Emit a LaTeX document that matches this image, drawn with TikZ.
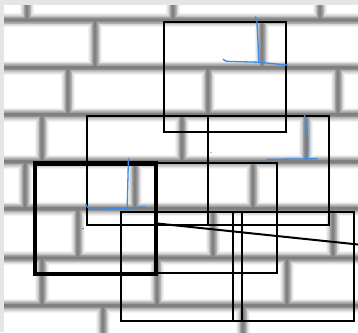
\documentclass[tikz,border=0pt]{standalone}
\usetikzlibrary{calc}
\definecolor{bordergray}{RGB}{229,229,229}
\definecolor{pen}{RGB}{58,140,230}
\newcommand\brickjoints{
 (0,20) -- (360,20) (0,67.5) -- (360,67.5) (0,114.5) -- (360,114.5)
 (0,161.5) -- (360,161.5) (0,208.5) -- (360,208.5) (0,258) -- (360,258)
 (0,305.5) -- (360,305.5)
 (27,0) -- (27,20) (173,0) -- (173,20) (320,0) -- (320,20)
 (95,20) -- (95,67.5) (262,20) -- (262,67.5)
 (68,67.5) -- (68,114.5) (208,67.5) -- (208,114.5) (338,67.5) -- (338,114.5)
 (42,114.5) -- (42,161.5) (182,114.5) -- (182,161.5) (306,114.5) -- (306,161.5)
 (25,161.5) -- (25,208.5) (135,161.5) -- (135,208.5) (253,161.5) -- (253,208.5)
 (78,208.5) -- (78,258) (213,208.5) -- (213,258) (333,208.5) -- (333,258)
 (42,258) -- (42,305.5) (157,258) -- (157,305.5) (287,258) -- (287,305.5)
 (103,305.5) -- (103,340) (243,305.5) -- (243,340)
}
\begin{document}
\begin{tikzpicture}[x=1pt,y=-1pt,
  tile/.style={draw=black,line width=2pt,inner sep=0pt,outer sep=0pt,
    minimum width=121pt,minimum height=110pt},
  boldtile/.style={tile,line width=4.5pt},
  inkstroke/.style={draw=pen,line width=1.3pt,line cap=round,line join=round}]
% background
\useasboundingbox (0,0) rectangle (358,332);
\fill[bordergray] (0,0) rectangle (358,332);
\fill[white] (4,5) rectangle (358,332);
\begin{scope}
  \clip (4,5) rectangle (358,332);
  \foreach \w/\c in {14/5,12/10,10/16,8.5/23,7/30,5.5/37,4/44,2.5/50} {
    \draw[line width=\w pt, black!\c] \brickjoints;
  }
\end{scope}
% tiles
\node[tile,minimum width=122pt] (A) at (225,77) {};
\node[tile,minimum height=109pt] (B1) at (147.5,170.5) {};
\node[tile,minimum height=109pt] (B2) at (268.5,170.5) {};
\node[tile] (C) at (216.5,218) {};
\node[tile,minimum height=109pt] (D) at (181.5,266.5) {};
\node[tile,minimum height=109pt] (E) at (293.5,266.5) {};
\node[boldtile,minimum height=110.5pt] (T) at (95.5,218.75) {};
% connector
\coordinate (lend) at (359,244.6);
\draw[line width=2pt] ([yshift=-4.6pt]T.east) -- (lend);
% hand-drawn marks
\draw[inkstroke] (255.3,16.8) -- (256.8,19.2) .. controls (257.6,35) and (258.5,50) .. (258.8,62);
\draw[inkstroke] (223,59.2) .. controls (224,61) and (226,61.4) .. (232,61.5) -- (258,62.2) -- (287.5,65);
\draw[inkstroke] (304.5,115) .. controls (307.5,128) and (308.8,145) .. (306.8,159);
\draw[inkstroke] (265.5,160.8) -- (267.5,159.3) -- (317.5,158.8);
\draw[inkstroke] (129,158.5) -- (128.3,161) .. controls (128,180) and (127.3,195) .. (127.3,207.5);
\draw[inkstroke] (86,204.5) .. controls (87,208) and (90,209.5) .. (97,209.3) -- (127,208) -- (145,206.8);
\draw[inkstroke,line width=0.9pt] (83.6,228) -- (82.6,229.3);
\fill[pen] (211,152.5) circle (0.6pt);
\end{tikzpicture}
\end{document}
